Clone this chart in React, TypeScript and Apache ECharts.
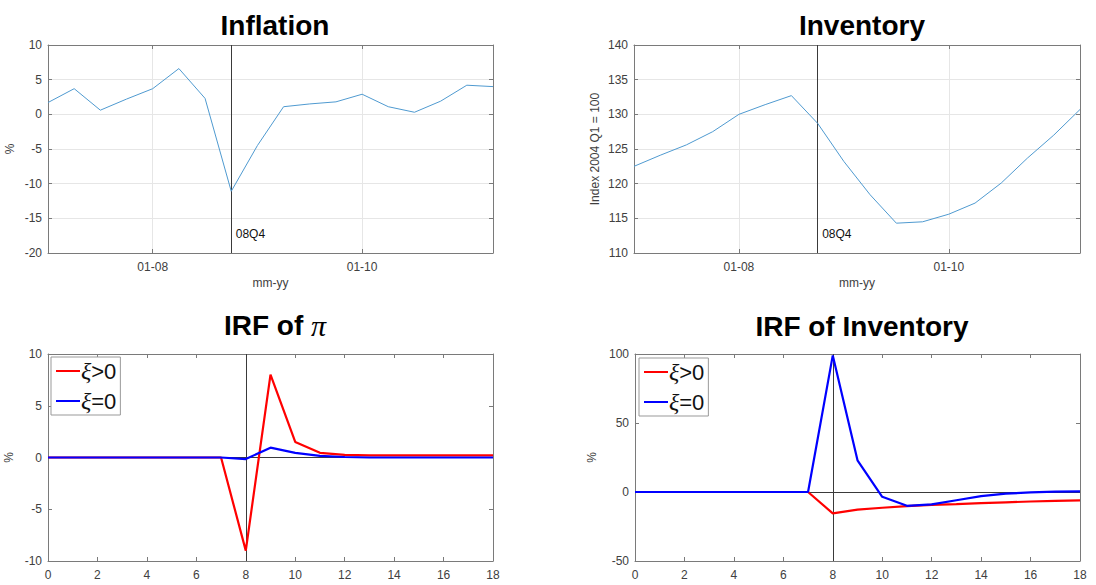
import React, { useEffect, useRef } from "react";
import * as echarts from "echarts";

const quarters = ["01-07","04-07","07-07","10-07","01-08","04-08","07-08","10-08","01-09","04-09","07-09","10-09","01-10","04-10","07-10","10-10","01-11","04-11"];
const labeledQuarters = ["01-08", "01-10"];
const eventQuarter = "10-08";
const eventLabel = "08Q4";

const inflation = [1.7, 3.7, 0.6, 2.2, 3.7, 6.6, 2.3, -11.1, -4.5, 1.1, 1.5, 1.8, 2.9, 1.1, 0.3, 1.9, 4.2, 4.0];
const inventory = [122.5, 124.1, 125.6, 127.5, 130.0, 131.4, 132.7, 128.7, 123.2, 118.4, 114.3, 114.5, 115.6, 117.2, 120.1, 123.7, 127.0, 130.7];

const horizons = [0,1,2,3,4,5,6,7,8,9,10,11,12,13,14,15,16,17,18];
const piPos = [0,0,0,0,0,0,0,0,-9.0,8.0,1.5,0.45,0.25,0.2,0.2,0.2,0.2,0.2,0.2];
const piZero = [0,0,0,0,0,0,0,0,-0.15,0.95,0.45,0.15,0.05,0,0,0,0,0,0];
const invPos = [0,0,0,0,0,0,0,0,-15.5,-12.8,-11.4,-10.2,-9.4,-8.8,-8.1,-7.5,-6.9,-6.4,-6.1];
const invZero = [0,0,0,0,0,0,0,0,99,23,-3.5,-10,-9,-6,-3,-1.2,-0.3,0.3,0.5];

const seriesNames = ["\u03be>0", "\u03be=0"];

const FONT = "'Liberation Sans', Arial, Helvetica, sans-serif";
const SERIF = "'Liberation Serif', 'DejaVu Serif', serif";
const BOX = "#7a7a7a";
const TICKTXT = "#404040";
const GRIDC = "#e6e6e6";

const showQ = (_i: number, v: string) => labeledQuarters.indexOf(v) >= 0;

function catAxis(grid: number, top: boolean) {
  return {
    type: "category",
    gridIndex: grid,
    position: top ? "top" : "bottom",
    data: quarters,
    boundaryGap: false,
    name: top ? "" : "mm-yy",
    nameLocation: "middle",
    nameGap: 24,
    nameTextStyle: { color: TICKTXT, fontSize: 12, fontFamily: FONT },
    axisLine: { show: true, onZero: false, lineStyle: { color: BOX, width: 1 } },
    axisTick: { show: true, inside: true, length: 4, interval: showQ, lineStyle: { color: BOX } },
    axisLabel: { show: !top, interval: showQ, color: TICKTXT, fontSize: 12, margin: 8, fontFamily: FONT },
    splitLine: { show: !top, interval: showQ, lineStyle: { color: GRIDC, width: 1 } },
  };
}

function valAxisX(grid: number, top: boolean) {
  return {
    type: "value",
    gridIndex: grid,
    position: top ? "top" : "bottom",
    min: 0,
    max: 18,
    interval: 2,
    axisLine: { show: true, onZero: false, lineStyle: { color: BOX, width: 1 } },
    axisTick: { show: true, inside: true, length: 4, lineStyle: { color: BOX } },
    axisLabel: { show: !top, color: TICKTXT, fontSize: 12, margin: 8, fontFamily: FONT },
    splitLine: { show: false },
  };
}

function valAxisY(grid: number, right: boolean, min: number, max: number, interval: number, name: string, gap: number, split: boolean) {
  return {
    type: "value",
    gridIndex: grid,
    position: right ? "right" : "left",
    min,
    max,
    interval,
    name: right ? "" : name,
    nameLocation: "middle",
    nameGap: gap,
    nameTextStyle: { color: TICKTXT, fontSize: 12, fontFamily: FONT },
    axisLine: { show: true, onZero: false, lineStyle: { color: BOX, width: 1 } },
    axisTick: { show: true, inside: true, length: 4, lineStyle: { color: BOX } },
    axisLabel: { show: !right, color: TICKTXT, fontSize: 12, margin: 6, fontFamily: FONT },
    splitLine: { show: split && !right, lineStyle: { color: GRIDC, width: 1 } },
  };
}

function legendAt(left: number, top: number) {
  return {
    data: seriesNames,
    orient: "vertical",
    left,
    top,
    icon: "rect",
    itemWidth: 24,
    itemHeight: 2,
    itemGap: 6,
    padding: [2, 4, 2, 5],
    borderColor: "#999",
    borderWidth: 1,
    backgroundColor: "#fff",
    selectedMode: false,
    formatter: (n: string) => "{xi|\u03be}{t|" + n.slice(1) + "}",
    textStyle: {
      fontSize: 22,
      color: "#111",
      fontFamily: FONT,
      padding: [0, 0, 0, -4],
      rich: {
        xi: { fontSize: 24, fontStyle: "italic", fontFamily: SERIF, color: "#111", height: 26 },
        t: { fontSize: 22, fontFamily: FONT, color: "#111", height: 26 },
      },
    },
  };
}

const refLines = (items: any[]) => ({
  silent: true,
  z: 1,
  symbol: "none",
  label: { show: false },
  lineStyle: { color: "#3a3a3a", width: 1, type: "solid" },
  data: items,
});

const eventMark = (yPos: number) => ({
  silent: true,
  symbol: "circle",
  symbolSize: 1,
  itemStyle: { color: "rgba(0,0,0,0)" },
  label: { show: true, position: "right", distance: 4, formatter: eventLabel, color: "#111", fontSize: 12, fontFamily: FONT },
  data: [{ coord: [eventQuarter, yPos] }],
});

export default function App() {
  const ref = useRef<HTMLDivElement>(null);
  useEffect(() => {
    if (!ref.current) return;
    const chart = echarts.init(ref.current, null, { renderer: "svg" });
    const titleStyle: any = { fontSize: 28, fontWeight: "bold", color: "#000", fontFamily: FONT };
    const piTitleStyle: any = {
      ...titleStyle,
      rich: {
        b: { fontSize: 28, fontWeight: "bold", color: "#000", fontFamily: FONT },
        pi: { fontSize: 30, fontWeight: "normal", fontStyle: "italic", color: "#000", fontFamily: SERIF },
      },
    };
    chart.setOption({
      animation: false,
      backgroundColor: "#fff",
      textStyle: { fontFamily: FONT },
      title: [
        { text: "Inflation", left: 270, top: 6, textAlign: "center", textStyle: titleStyle },
        { text: "Inventory", left: 857, top: 6, textAlign: "center", textStyle: titleStyle },
        { text: "{b|IRF of }{pi|\u03c0}", left: 270, top: 305, textAlign: "center", textStyle: piTitleStyle },
        { text: "IRF of Inventory", left: 857, top: 307, textAlign: "center", textStyle: titleStyle },
      ],
      grid: [
        { left: 48, top: 45, width: 445, height: 208 },
        { left: 634, top: 45, width: 446, height: 208 },
        { left: 48, top: 354, width: 445, height: 207 },
        { left: 635, top: 354, width: 445, height: 207 },
      ],
      xAxis: [
        catAxis(0, false), catAxis(0, true),
        catAxis(1, false), catAxis(1, true),
        valAxisX(2, false), valAxisX(2, true),
        valAxisX(3, false), valAxisX(3, true),
      ],
      yAxis: [
        valAxisY(0, false, -20, 10, 5, "%", 32, true), valAxisY(0, true, -20, 10, 5, "", 0, true),
        valAxisY(1, false, 110, 140, 5, "Index 2004 Q1 = 100", 33, true), valAxisY(1, true, 110, 140, 5, "", 0, true),
        valAxisY(2, false, -10, 10, 5, "%", 33, false), valAxisY(2, true, -10, 10, 5, "", 0, false),
        valAxisY(3, false, -50, 100, 50, "%", 37, false), valAxisY(3, true, -50, 100, 50, "", 0, false),
      ],
      legend: [legendAt(51, 357), legendAt(639, 358)],
      series: [
        {
          type: "line", name: "Inflation", xAxisIndex: 0, yAxisIndex: 0, data: inflation, z: 3,
          symbol: "none", lineStyle: { color: "#4f9ad0", width: 1 }, itemStyle: { color: "#4f9ad0" },
          markPoint: eventMark(-17.3),
        },
        {
          type: "line", name: "ref0", xAxisIndex: 0, yAxisIndex: 0, data: [], z: 1,
          markLine: refLines([{ xAxis: eventQuarter }]),
        },
        {
          type: "line", name: "Inventory", xAxisIndex: 2, yAxisIndex: 2, data: inventory, z: 3,
          symbol: "none", lineStyle: { color: "#4f9ad0", width: 1 }, itemStyle: { color: "#4f9ad0" },
          markPoint: eventMark(112.7),
        },
        {
          type: "line", name: "ref1", xAxisIndex: 2, yAxisIndex: 2, data: [], z: 1,
          markLine: refLines([{ xAxis: eventQuarter }]),
        },
        {
          type: "line", name: "ref2", xAxisIndex: 4, yAxisIndex: 4, data: [], z: 1,
          markLine: refLines([{ yAxis: 0 }, { xAxis: 8 }]),
        },
        {
          type: "line", name: seriesNames[0], xAxisIndex: 4, yAxisIndex: 4, z: 3,
          data: horizons.map((h, i) => [h, piPos[i]]),
          symbol: "none", lineStyle: { color: "#ff0000", width: 2.2 }, itemStyle: { color: "#ff0000" },
        },
        {
          type: "line", name: seriesNames[1], xAxisIndex: 4, yAxisIndex: 4, z: 4,
          data: horizons.map((h, i) => [h, piZero[i]]),
          symbol: "none", lineStyle: { color: "#0000ff", width: 2.2 }, itemStyle: { color: "#0000ff" },
        },
        {
          type: "line", name: "ref3", xAxisIndex: 6, yAxisIndex: 6, data: [], z: 1,
          markLine: refLines([{ yAxis: 0 }, { xAxis: 8 }]),
        },
        {
          type: "line", name: seriesNames[0], xAxisIndex: 6, yAxisIndex: 6, z: 3,
          data: horizons.map((h, i) => [h, invPos[i]]),
          symbol: "none", lineStyle: { color: "#ff0000", width: 2.2 }, itemStyle: { color: "#ff0000" },
        },
        {
          type: "line", name: seriesNames[1], xAxisIndex: 6, yAxisIndex: 6, z: 4,
          data: horizons.map((h, i) => [h, invZero[i]]),
          symbol: "none", lineStyle: { color: "#0000ff", width: 2.2 }, itemStyle: { color: "#0000ff" },
        },
      ],
    });
    return () => chart.dispose();
  }, []);
  return <div ref={ref} style={{ position: "fixed", left: 0, top: 0, width: 1096, height: 585 }} />;
}
